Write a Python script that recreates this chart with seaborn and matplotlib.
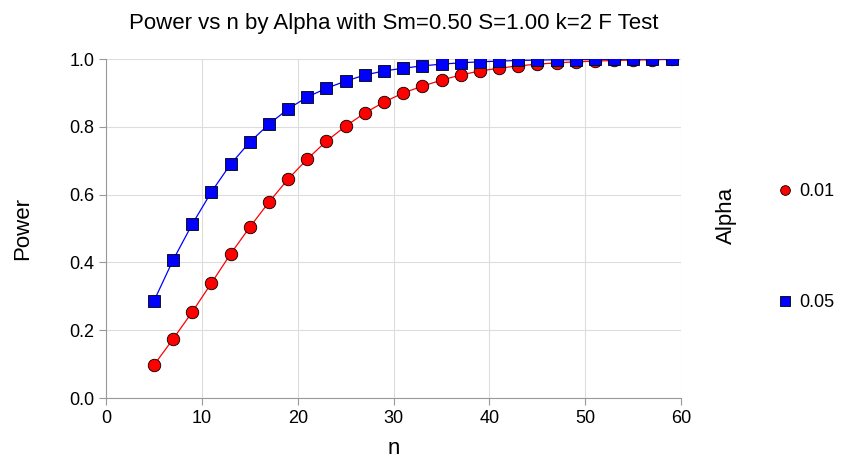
import matplotlib
matplotlib.use("Agg")
from matplotlib import pyplot as plt
from matplotlib.lines import Line2D
import seaborn as sns
import pandas as pd

n_values = list(range(5, 61, 2))
power_001 = [0.097, 0.174, 0.254, 0.339, 0.425, 0.504, 0.578, 0.646, 0.705, 0.758,
             0.802, 0.841, 0.873, 0.900, 0.920, 0.938, 0.953, 0.965, 0.973, 0.980,
             0.985, 0.989, 0.992, 0.994, 0.996, 0.997, 0.998, 0.999]
power_005 = [0.286, 0.407, 0.513, 0.608, 0.690, 0.755, 0.808, 0.853, 0.888, 0.914,
             0.935, 0.953, 0.965, 0.973, 0.980, 0.985, 0.989, 0.992, 0.994, 0.996,
             0.997, 0.998, 0.998, 0.999, 0.999, 1.000, 1.000, 1.000]
alpha_labels = ["0.01", "0.05"]
colors = {"0.01": "#ff0000", "0.05": "#0000ff"}
markers = {"0.01": "o", "0.05": "s"}

df = pd.DataFrame({
    "n": n_values * 2,
    "Power": power_001 + power_005,
    "Alpha": [alpha_labels[0]] * len(n_values) + [alpha_labels[1]] * len(n_values),
})

sns.set_style("white")
plt.rcParams['font.family'] = ['Liberation Sans', 'DejaVu Sans']
plt.rcParams['text.color'] = 'black'
plt.rcParams['axes.labelcolor'] = 'black'
plt.rcParams['xtick.color'] = 'black'
plt.rcParams['ytick.color'] = 'black'

fig = plt.figure(figsize=(8.41, 4.58), dpi=100)
ax = fig.add_axes([0.126, 0.131, 0.684, 0.740])

sns.lineplot(data=df, x="n", y="Power", hue="Alpha", style="Alpha",
             palette=colors, markers=markers, dashes=False, ax=ax,
             linewidth=0.9, markersize=9, markeredgecolor="black",
             markeredgewidth=0.6, legend=False)

ax.set_xlim(0, 60)
ax.set_ylim(0, 1.0)
ax.set_xticks(range(0, 61, 10))
ax.set_yticks([0.0, 0.2, 0.4, 0.6, 0.8, 1.0])
ax.set_yticklabels(["0.0", "0.2", "0.4", "0.6", "0.8", "1.0"])
ax.grid(True, color="#dddddd", linewidth=0.8)
for s in ["top", "right"]:
    ax.spines[s].set_visible(False)
for s in ["left", "bottom"]:
    ax.spines[s].set_color("#999999")
ax.tick_params(axis="both", length=5, color="#999999", labelsize=13,
               labelcolor="black", direction="out")
ax.tick_params(left=True, bottom=True)
ax.set_xlabel("n", fontsize=16, labelpad=8)
ax.set_ylabel("Power", fontsize=16, labelpad=26)
ax.set_title("Power vs n by Alpha with Sm=0.50 S=1.00 k=2 F Test", fontsize=16, pad=22)

# legend
fig.text(0.864, 0.53, "Alpha", rotation=90, fontsize=16, ha="center", va="center")
handles = [Line2D([], [], linestyle="none", marker=markers[a], markersize=7,
                  markerfacecolor=colors[a], markeredgecolor="black",
                  markeredgewidth=0.6) for a in alpha_labels]
fig.legend(handles, alpha_labels, loc="center left", bbox_to_anchor=(0.905, 0.46),
           frameon=False, fontsize=13, labelspacing=5.2, handlelength=0.8,
           handletextpad=0.4)

fig.savefig("out.png", dpi=100)
